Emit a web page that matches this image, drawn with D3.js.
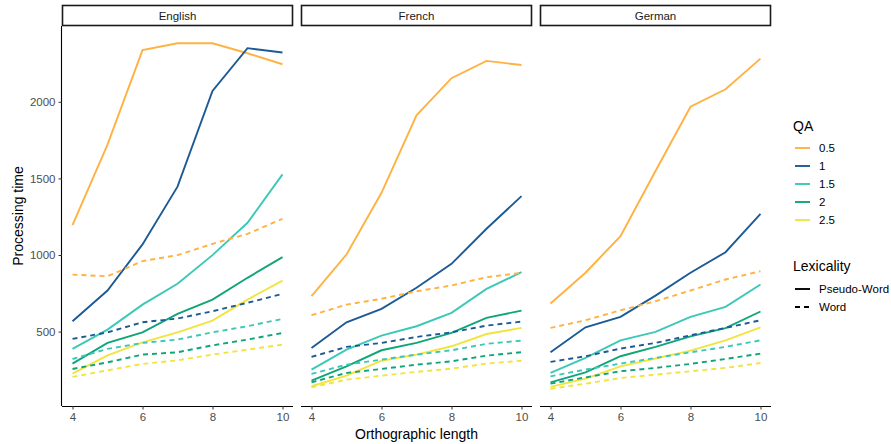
<!DOCTYPE html>
<html>
<head>
<meta charset="utf-8">
<script src="https://cdn.jsdelivr.net/npm/d3@7"></script>
<style>
  html, body { margin: 0; padding: 0; background: #fff; }
  svg { display: block; font-family: "Liberation Sans", Arial, sans-serif; }
</style>
</head>
<body>
<svg id="chart" width="891" height="444"></svg>
<script>
// ---------- data ----------
const languages = ["English", "French", "German"];
const qaLevels = ["0.5", "1", "1.5", "2", "2.5"];
const lexicality = ["Pseudo-Word", "Word"];
const lengths = [4, 5, 6, 7, 8, 9, 10];
const xTicks = [4, 6, 8, 10];
const yTicks = [500, 1000, 1500, 2000];
const qaColors = ["#FFB142", "#1C5A96", "#3CC8B6", "#0FA579", "#F2E43E"];

// rows follow qaLevels order; columns follow lengths
const englishPseudo = [
  [1195, 1720, 2337, 2382, 2382, 2317, 2245],
  [567, 768, 1069, 1446, 2071, 2350, 2322],
  [387, 513, 676, 812, 999, 1210, 1526],
  [291, 426, 495, 616, 709, 851, 986],
  [225, 345, 430, 495, 572, 709, 833]
];
const englishWord = [
  [872, 861, 960, 999, 1073, 1138, 1236],
  [452, 495, 561, 585, 633, 688, 746],
  [321, 387, 426, 448, 495, 535, 583],
  [256, 299, 350, 365, 410, 448, 491],
  [204, 247, 289, 312, 350, 382, 415]
];
const frenchPseudo = [
  [731, 1003, 1406, 1912, 2154, 2267, 2240],
  [393, 561, 648, 786, 942, 1171, 1384],
  [252, 382, 474, 535, 622, 779, 888],
  [180, 273, 378, 426, 491, 590, 637],
  [143, 212, 310, 350, 404, 484, 524]
];
const frenchWord = [
  [607, 676, 714, 763, 801, 855, 884],
  [335, 400, 426, 465, 495, 539, 565],
  [224, 284, 317, 350, 378, 420, 441],
  [169, 230, 256, 284, 306, 343, 365],
  [136, 186, 212, 237, 258, 291, 310]
];
const germanPseudo = [
  [683, 884, 1123, 1548, 1968, 2082, 2282],
  [365, 528, 596, 735, 884, 1018, 1269],
  [230, 328, 443, 498, 596, 661, 807],
  [169, 234, 339, 400, 469, 522, 631],
  [139, 193, 273, 324, 376, 443, 528]
];
const germanWord = [
  [524, 574, 639, 698, 768, 840, 894],
  [302, 339, 389, 426, 476, 524, 574],
  [208, 252, 291, 328, 365, 400, 443],
  [160, 201, 241, 263, 289, 321, 356],
  [127, 160, 197, 219, 241, 263, 295]
];

const tables = {
  English: { "Pseudo-Word": englishPseudo, "Word": englishWord },
  French: { "Pseudo-Word": frenchPseudo, "Word": frenchWord },
  German: { "Pseudo-Word": germanPseudo, "Word": germanWord }
};

// ---------- layout ----------
const svg = d3.select("#chart");
const panelLefts = [62, 301, 540];
const panelW = 231;
const stripTop = 5, stripBottom = 26;
const plotTop = 26, plotBottom = 406;

const allVals = [];
languages.forEach(l => lexicality.forEach(lx => tables[l][lx].forEach(r => r.forEach(v => allVals.push(v)))));
const yMin = d3.min(allVals), yMax = d3.max(allVals);
const yPad = (yMax - yMin) * 0.05;
const y = d3.scaleLinear().domain([yMin - yPad, yMax + yPad]).range([plotBottom, plotTop]);

const xPad = (d3.max(lengths) - d3.min(lengths)) * 0.05;
const color = d3.scaleOrdinal().domain(qaLevels).range(qaColors);
const dash = { "Pseudo-Word": null, "Word": "5,4" };
const LW = 1.9;

languages.forEach((lang, i) => {
  const left = panelLefts[i];
  const x = d3.scaleLinear()
    .domain([d3.min(lengths) - xPad, d3.max(lengths) + xPad])
    .range([left, left + panelW]);

  // strip
  svg.append("rect")
    .attr("x", left + 0.5).attr("y", stripTop + 0.5)
    .attr("width", panelW - 1).attr("height", stripBottom - stripTop - 1)
    .attr("fill", "#fff").attr("stroke", "#1a1a1a").attr("stroke-width", 1.6);
  svg.append("text")
    .attr("x", left + panelW / 2).attr("y", (stripTop + stripBottom) / 2)
    .attr("text-anchor", "middle").attr("dominant-baseline", "central")
    .attr("font-size", 11.5).attr("fill", "#1a1a1a").text(lang);

  // lines
  const line = d3.line().x((d, j) => x(lengths[j])).y(d => y(d));
  const g = svg.append("g");
  lexicality.forEach(lx => {
    tables[lang][lx].forEach((row, q) => {
      g.append("path")
        .attr("d", line(row))
        .attr("fill", "none")
        .attr("stroke", color(qaLevels[q]))
        .attr("stroke-width", LW)
        .attr("stroke-dasharray", dash[lx]);
    });
  });

  // x axis
  const xAxis = svg.append("g")
    .attr("transform", `translate(0,${plotBottom})`)
    .call(d3.axisBottom(x).tickValues(xTicks).tickSize(3.5).tickPadding(3).tickFormat(d3.format("d")));
  xAxis.select(".domain").attr("stroke", "#000").attr("stroke-width", 1.1)
    .attr("d", `M${left},0.5H${left + panelW}`);
  xAxis.selectAll(".tick line").attr("stroke", "#333");
  xAxis.selectAll(".tick text").attr("fill", "#4d4d4d").attr("font-size", 11.5)
    .attr("font-family", "Liberation Sans, Arial, sans-serif");

  if (i === 0) {
    const yAxis = svg.append("g")
      .attr("transform", `translate(${left},0)`)
      .call(d3.axisLeft(y).tickValues(yTicks).tickSize(3.5).tickPadding(3).tickFormat(d3.format("d")));
    yAxis.select(".domain").attr("stroke", "#000").attr("stroke-width", 1.1)
      .attr("d", `M-0.5,${plotTop}V${plotBottom}`);
    yAxis.selectAll(".tick line").attr("stroke", "#333");
    yAxis.selectAll(".tick text").attr("fill", "#4d4d4d").attr("font-size", 11.5)
      .attr("font-family", "Liberation Sans, Arial, sans-serif");
  }
});

// axis titles
svg.append("text")
  .attr("x", (panelLefts[0] + panelLefts[2] + panelW) / 2).attr("y", 439)
  .attr("text-anchor", "middle").attr("font-size", 14).attr("fill", "#000")
  .text("Orthographic length");
svg.append("text")
  .attr("transform", `translate(23,${(plotTop + plotBottom) / 2}) rotate(-90)`)
  .attr("text-anchor", "middle").attr("font-size", 14).attr("fill", "#000")
  .text("Processing time");

// legends
const lg = svg.append("g");
lg.append("text").attr("x", 793).attr("y", 131).attr("font-size", 14).attr("fill", "#000").text("QA");
qaLevels.forEach((q, k) => {
  const yy = 148 + k * 18;
  lg.append("line").attr("x1", 795).attr("x2", 810).attr("y1", yy).attr("y2", yy)
    .attr("stroke", color(q)).attr("stroke-width", LW);
  lg.append("text").attr("x", 819).attr("y", yy).attr("dominant-baseline", "central")
    .attr("font-size", 11.5).attr("fill", "#000").text(q);
});
lg.append("text").attr("x", 793).attr("y", 271).attr("font-size", 14).attr("fill", "#000").text("Lexicality");
lexicality.forEach((lx, k) => {
  const yy = 289 + k * 18;
  lg.append("line").attr("x1", 795).attr("x2", 810).attr("y1", yy).attr("y2", yy)
    .attr("stroke", "#000").attr("stroke-width", LW).attr("stroke-dasharray", dash[lx]);
  lg.append("text").attr("x", 819).attr("y", yy).attr("dominant-baseline", "central")
    .attr("font-size", 11.5).attr("fill", "#000").text(lx);
});
</script>
</body>
</html>
